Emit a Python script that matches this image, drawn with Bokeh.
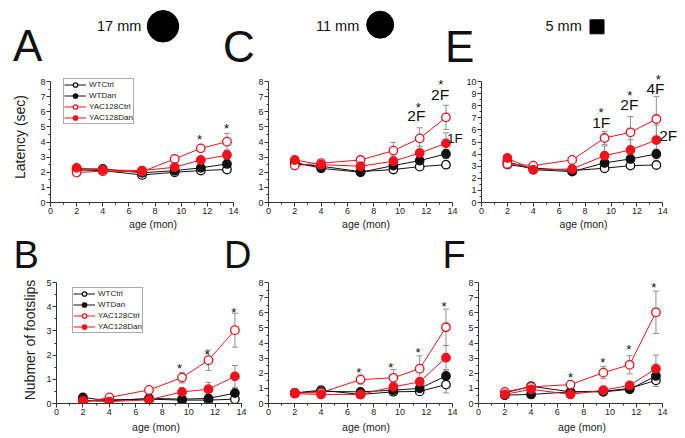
from bokeh.plotting import figure
from bokeh.layouts import column, row
from bokeh.models import Range1d, Label, Legend, LegendItem, FixedTicker, LinearAxis
from bokeh.embed import file_html
from bokeh.resources import INLINE

FONT = "Liberation Sans"
RED = "#f2121c"
BLACK = "#111111"
GREY = "#8f8f8f"
BASE_FIX = 0.33   # label anchor correction (fraction of font size)

ages = [2, 4, 7, 9.5, 11.5, 13.5]
groups = ["WTCtrl", "WTDan", "YAC128Ctrl", "YAC128Dan"]
x_ticks = [0, 2, 4, 6, 8, 10, 12, 14]
x_minor = [1, 3, 5, 7, 9, 11, 13]

# ---- A: latency, 17 mm beam
A_WTCtrl = [2.15, 2.11, 1.82, 2.00, 2.11, 2.18]
A_WTDan = [2.22, 2.22, 1.96, 2.11, 2.29, 2.55]
A_YACCtrl = [1.98, 2.07, 2.04, 2.88, 3.58, 4.02]
A_YACDan = [2.29, 2.15, 2.11, 2.33, 2.81, 3.14]
A_sem_WTCtrl = [0.10, 0.10, 0.10, 0.12, 0.15, 0.15]
A_sem_WTDan = [0.10, 0.10, 0.10, 0.12, 0.15, 0.20]
A_sem_YACCtrl = [0.10, 0.10, 0.10, 0.15, 0.20, 0.55]
A_sem_YACDan = [0.10, 0.10, 0.10, 0.15, 0.20, 0.30]
A_star_x = [11.4, 13.47]
A_star_y = [4.36, 5.07]

# ---- C: latency, 11 mm beam
C_WTCtrl = [2.55, 2.40, 2.04, 2.18, 2.37, 2.50]
C_WTDan = [2.66, 2.26, 2.00, 2.44, 2.77, 3.21]
C_YACCtrl = [2.44, 2.60, 2.81, 3.43, 4.24, 5.63]
C_YACDan = [2.81, 2.50, 2.40, 2.73, 3.27, 3.91]
C_sem_WTCtrl = [0.10, 0.10, 0.10, 0.15, 0.15, 0.20]
C_sem_WTDan = [0.10, 0.10, 0.10, 0.20, 0.25, 0.30]
C_sem_YACCtrl = [0.10, 0.10, 0.15, 0.55, 0.70, 0.80]
C_sem_YACDan = [0.10, 0.10, 0.15, 0.30, 0.45, 0.70]
C_star_x = [11.4, 13.1]
C_star_y = [6.48, 8.0]
C_sig_text = ["2F", "2F"]
C_sig_x = [11.25, 13.05]
C_sig_y = [5.8, 7.19]
C_side_text = ["1F"]
C_side_x = [13.58]
C_side_y = [4.28]

# ---- E: latency, 5 mm square beam
E_WTCtrl = [3.13, 2.85, 2.64, 2.83, 3.05, 3.10]
E_WTDan = [3.38, 2.72, 2.55, 3.27, 3.60, 4.01]
E_YACCtrl = [3.19, 3.05, 3.52, 5.33, 5.80, 6.90]
E_YACDan = [3.68, 2.70, 2.77, 3.87, 4.34, 5.16]
E_sem_WTCtrl = [0.15, 0.10, 0.10, 0.20, 0.20, 0.25]
E_sem_WTDan = [0.15, 0.10, 0.10, 0.30, 0.35, 0.40]
E_sem_YACCtrl = [0.15, 0.10, 0.20, 0.55, 1.30, 1.85]
E_sem_YACDan = [0.15, 0.10, 0.15, 0.80, 0.85, 1.25]
E_star_x = [9.23, 11.44, 13.65]
E_star_y = [7.66, 9.03, 10.4]
E_sig_text = ["1F", "2F", "4F"]
E_sig_x = [9.24, 11.42, 13.43]
E_sig_y = [6.64, 8.1, 9.45]
E_side_text = ["2F"]
E_side_x = [13.72]
E_side_y = [5.54]

# ---- B: footslips, 17 mm beam
B_WTCtrl = [0.11, 0.15, 0.18, 0.14, 0.14, 0.18]
B_WTDan = [0.25, 0.11, 0.21, 0.18, 0.21, 0.43]
B_YACCtrl = [0.04, 0.25, 0.56, 1.07, 1.79, 3.03]
B_YACDan = [0.11, 0.08, 0.15, 0.48, 0.59, 1.12]
B_sem_WTCtrl = [0.05, 0.05, 0.05, 0.05, 0.05, 0.08]
B_sem_WTDan = [0.05, 0.05, 0.05, 0.05, 0.08, 0.20]
B_sem_YACCtrl = [0.05, 0.08, 0.10, 0.22, 0.42, 0.70]
B_sem_YACDan = [0.05, 0.05, 0.08, 0.15, 0.28, 0.45]
B_star_x = [9.31, 11.4, 13.42]
B_star_y = [1.57, 2.12, 3.88]

# ---- D: footslips, 11 mm beam
D_WTCtrl = [0.70, 0.88, 0.60, 0.77, 0.80, 1.25]
D_WTDan = [0.70, 0.80, 0.77, 0.88, 1.00, 1.82]
D_YACCtrl = [0.70, 0.72, 1.58, 1.70, 2.30, 5.04]
D_YACDan = [0.65, 0.60, 0.60, 1.10, 1.43, 3.03]
D_sem_WTCtrl = [0.10, 0.10, 0.10, 0.10, 0.15, 0.55]
D_sem_WTDan = [0.10, 0.10, 0.10, 0.15, 0.15, 0.40]
D_sem_YACCtrl = [0.10, 0.15, 0.30, 0.55, 0.85, 1.20]
D_sem_YACDan = [0.10, 0.10, 0.10, 0.20, 0.30, 0.80]
D_star_x = [6.87, 9.31, 11.38, 13.35]
D_star_y = [2.23, 2.58, 3.55, 6.59]

# ---- F: footslips, 5 mm square beam
F_WTCtrl = [0.70, 1.14, 0.77, 0.80, 1.00, 1.53]
F_WTDan = [0.55, 0.60, 0.77, 0.77, 0.94, 1.82]
F_YACCtrl = [0.77, 1.10, 1.25, 2.04, 2.56, 6.03]
F_YACDan = [0.60, 0.94, 0.60, 0.88, 1.20, 2.30]
F_sem_WTCtrl = [0.10, 0.15, 0.10, 0.10, 0.10, 0.40]
F_sem_WTDan = [0.10, 0.10, 0.10, 0.10, 0.10, 0.30]
F_sem_YACCtrl = [0.10, 0.15, 0.15, 0.40, 0.60, 1.40]
F_sem_YACDan = [0.10, 0.10, 0.10, 0.15, 0.20, 0.90]
F_star_x = [7.0, 9.46, 11.44, 13.34]
F_star_y = [1.9, 2.91, 3.72, 7.87]

beam_labels = ["17 mm", "11 mm", "5 mm"]
panel_letters_top = ["A", "C", "E"]
panel_letters_bottom = ["B", "D", "F"]

STYLE = {
    "WTCtrl": (BLACK, "white"),
    "WTDan": (BLACK, BLACK),
    "YAC128Ctrl": (RED, "white"),
    "YAC128Dan": (RED, RED),
}


def style_axis(ax):
    ax.axis_line_color = "#333333"
    ax.axis_line_width = 1
    ax.major_tick_line_color = "#333333"
    ax.minor_tick_line_color = "#333333"
    ax.major_tick_out = 4
    ax.major_tick_in = 0
    ax.minor_tick_out = 2
    ax.minor_tick_in = 0
    ax.major_label_text_font = FONT
    ax.major_label_text_font_size = "9px"
    ax.major_label_text_color = "#222222"
    ax.major_label_standoff = 1
    ax.axis_label_text_font = FONT
    ax.axis_label_text_font_style = "normal"
    ax.axis_label_text_color = "#222222"


def make_panel(fx0, fx1, ax0, ax1, fy0, fy1, ayt, ayb, ymax, means, sems,
               star_x, star_y, sig=None, side=None, side_size=15, legend_loc=None,
               ylabel=None, ylabel_center=None, ylabel_standoff=10, xlabel_standoff=1):
    W = fx1 - fx0
    H = fy1 - fy0
    ux = (ax1 - ax0) / 14.0
    uy = (ayb - ayt) / float(ymax)
    xr_end = 14 + (fx1 - ax1) / ux
    yr_end = ymax + (ayt - fy0) / uy
    p = figure(width=W, height=H, x_range=Range1d(0, xr_end), y_range=Range1d(0, yr_end),
               min_border_left=ax0 - fx0, min_border_right=0, min_border_top=0,
               min_border_bottom=fy1 - ayb, toolbar_location=None,
               output_backend="svg", tools="")
    p.outline_line_color = None
    p.xgrid.visible = False
    p.ygrid.visible = False
    xa = p.xaxis[0]
    ya = p.yaxis[0]
    style_axis(xa)
    style_axis(ya)
    xa.bounds = (0, 14)
    ya.bounds = (0, ymax)
    xa.ticker = FixedTicker(ticks=x_ticks, minor_ticks=x_minor)
    ya.ticker = FixedTicker(ticks=list(range(ymax + 1)),
                            minor_ticks=[i + 0.5 for i in range(ymax)])
    xa.axis_label = "age (mon)"
    xa.axis_label_text_font_size = "10.5px"
    xa.axis_label_standoff = xlabel_standoff

    if ylabel:
        lab = LinearAxis(ticker=FixedTicker(ticks=[]), axis_label=ylabel)
        style_axis(lab)
        lab.axis_line_color = None
        lab.major_tick_out = 0
        lab.minor_tick_out = 0
        lab.major_label_standoff = 0
        lab.axis_label_text_font_size = "14px"
        lab.axis_label_standoff = ylabel_standoff
        half = min(ylabel_center, ymax - ylabel_center)
        lab.bounds = (ylabel_center - half, ylabel_center + half)
        p.add_layout(lab, "left")

    # error bars (behind markers)
    for g in groups:
        m = means[g]
        s = sems[g]
        lo = [a - b for a, b in zip(m, s)]
        hi = [a + b for a, b in zip(m, s)]
        p.segment(x0=ages, y0=lo, x1=ages, y1=hi, line_color=GREY, line_width=1)
        p.scatter(x=ages + ages, y=lo + hi, marker="dash", size=6, line_color=GREY,
                  line_width=1)

    items = []
    for g in groups:
        lc, fc = STYLE[g]
        lr = p.line(ages, means[g], line_color=lc, line_width=1)
        sr = p.scatter(ages, means[g], marker="circle", size=8.5, line_color=lc,
                       fill_color=fc, line_width=1.3)
        items.append(LegendItem(label=g, renderers=[lr, sr]))

    # significance marks
    for x, y in zip(star_x, star_y):
        p.add_layout(Label(x=x, y=y - 2.6 / uy, text="*", text_align="center",
                           text_baseline="alphabetic", text_font=FONT,
                           text_font_size="13px", text_color=BLACK))
    if sig:
        for t, x, y in zip(*sig):
            p.add_layout(Label(x=x, y=y - 0.4 / uy, text=t, text_align="center",
                               text_baseline="alphabetic", text_font=FONT,
                               text_font_size="15.5px", text_color=BLACK))
    if side:
        for t, x, y in zip(*side):
            p.add_layout(Label(x=x, y=y - 0.4 / uy, text=t, text_align="left",
                               text_baseline="alphabetic", text_font=FONT,
                               text_font_size="%spx" % side_size, text_color=BLACK))

    if legend_loc is not None:
        leg = Legend(items=items, location=legend_loc)
        leg.label_text_font = FONT
        leg.label_text_font_size = "8px"
        leg.label_text_color = "#222222"
        leg.border_line_color = "#555555"
        leg.border_line_width = 1
        leg.background_fill_color = "white"
        leg.background_fill_alpha = 1
        leg.glyph_width = 22
        leg.glyph_height = 11
        leg.label_height = 11
        leg.label_standoff = 3
        leg.spacing = 0
        leg.padding = 0
        leg.margin = 0
        p.add_layout(leg)
    return p


def pack(prefix):
    g = globals()
    means = {"WTCtrl": g[prefix + "_WTCtrl"], "WTDan": g[prefix + "_WTDan"],
             "YAC128Ctrl": g[prefix + "_YACCtrl"], "YAC128Dan": g[prefix + "_YACDan"]}
    sems = {"WTCtrl": g[prefix + "_sem_WTCtrl"], "WTDan": g[prefix + "_sem_WTDan"],
            "YAC128Ctrl": g[prefix + "_sem_YACCtrl"], "YAC128Dan": g[prefix + "_sem_YACDan"]}
    return means, sems


# top row: canvas y 71..232, axes 81..202
TOP0, TOP1 = 71, 232
mA, sA = pack("A")
pA = make_panel(0, 255, 50, 233, TOP0, TOP1, 81, 202, 8, mA, sA, A_star_x, A_star_y,
                legend_loc=(13, 78), ylabel="Latency (sec)", ylabel_center=4.46,
                ylabel_standoff=10, xlabel_standoff=1)
mC, sC = pack("C")
pC = make_panel(255, 463, 267, 452, TOP0, TOP1, 81, 202, 8, mC, sC, C_star_x, C_star_y,
                sig=(C_sig_text, C_sig_x, C_sig_y), side=(C_side_text, C_side_x, C_side_y),
                side_size=13.5, xlabel_standoff=1)
mE, sE = pack("E")
pE = make_panel(463, 685, 478, 662, TOP0, TOP1, 81, 202, 10, mE, sE, E_star_x, E_star_y,
                sig=(E_sig_text, E_sig_x, E_sig_y), side=(E_side_text, E_side_x, E_side_y),
                side_size=15.5, xlabel_standoff=1)

# bottom row: canvas y 276..438, axes 282..403
BOT0, BOT1 = 276, 438
mB, sB = pack("B")
pB = make_panel(0, 255, 56, 241, BOT0, BOT1, 282, 403, 5, mB, sB, B_star_x, B_star_y,
                legend_loc=(16, 70), ylabel="Nubmer of footslips", ylabel_center=2.4,
                ylabel_standoff=6, xlabel_standoff=3)
mD, sD = pack("D")
pD = make_panel(255, 463, 267, 452, BOT0, BOT1, 282, 403, 8, mD, sD, D_star_x, D_star_y,
                xlabel_standoff=3)
mF, sF = pack("F")
pF = make_panel(463, 685, 478, 662, BOT0, BOT1, 282, 403, 8, mF, sF, F_star_x, F_star_y,
                xlabel_standoff=3)


def header(y_top, y_bottom):
    h = figure(width=685, height=y_bottom - y_top, x_range=Range1d(0, 685),
               y_range=Range1d(y_bottom, y_top), min_border=0, toolbar_location=None,
               output_backend="svg", x_axis_type=None, y_axis_type=None, tools="")
    h.outline_line_color = None
    h.grid.visible = False
    return h


def htext(h, t, x, baseline, size):
    h.add_layout(Label(x=x, y=baseline - BASE_FIX * size, text=t, text_font=FONT,
                       text_font_size="%spx" % size, text_baseline="alphabetic",
                       text_color=BLACK))


h1 = header(0, TOP0)
for t, x in zip(beam_labels, [96.5, 315.5, 545.0]):
    htext(h1, t, x, 30, 14.5)
h1.scatter(x=[162.5, 379.7], y=[25.8, 24.2], size=[31.5, 27], marker="circle",
           color="black")
h1.scatter(x=[596.5], y=[26.3], size=14, marker="square", color="black")
for t, x, yb in zip(panel_letters_top, [12.5, 222.5, 444.5], [60, 60.5, 60.5]):
    htext(h1, t, x, yb, 44)

h2 = header(TOP1, BOT0)
for t, x, yb in zip(panel_letters_bottom, [13.0, 223.5, 442.0], [267.5, 267.5, 267.5]):
    htext(h2, t, x, yb, 38)

layout = column(h1, row(pA, pC, pE), h2, row(pB, pD, pF))

open("out.html", "w").write(file_html(layout, INLINE))
